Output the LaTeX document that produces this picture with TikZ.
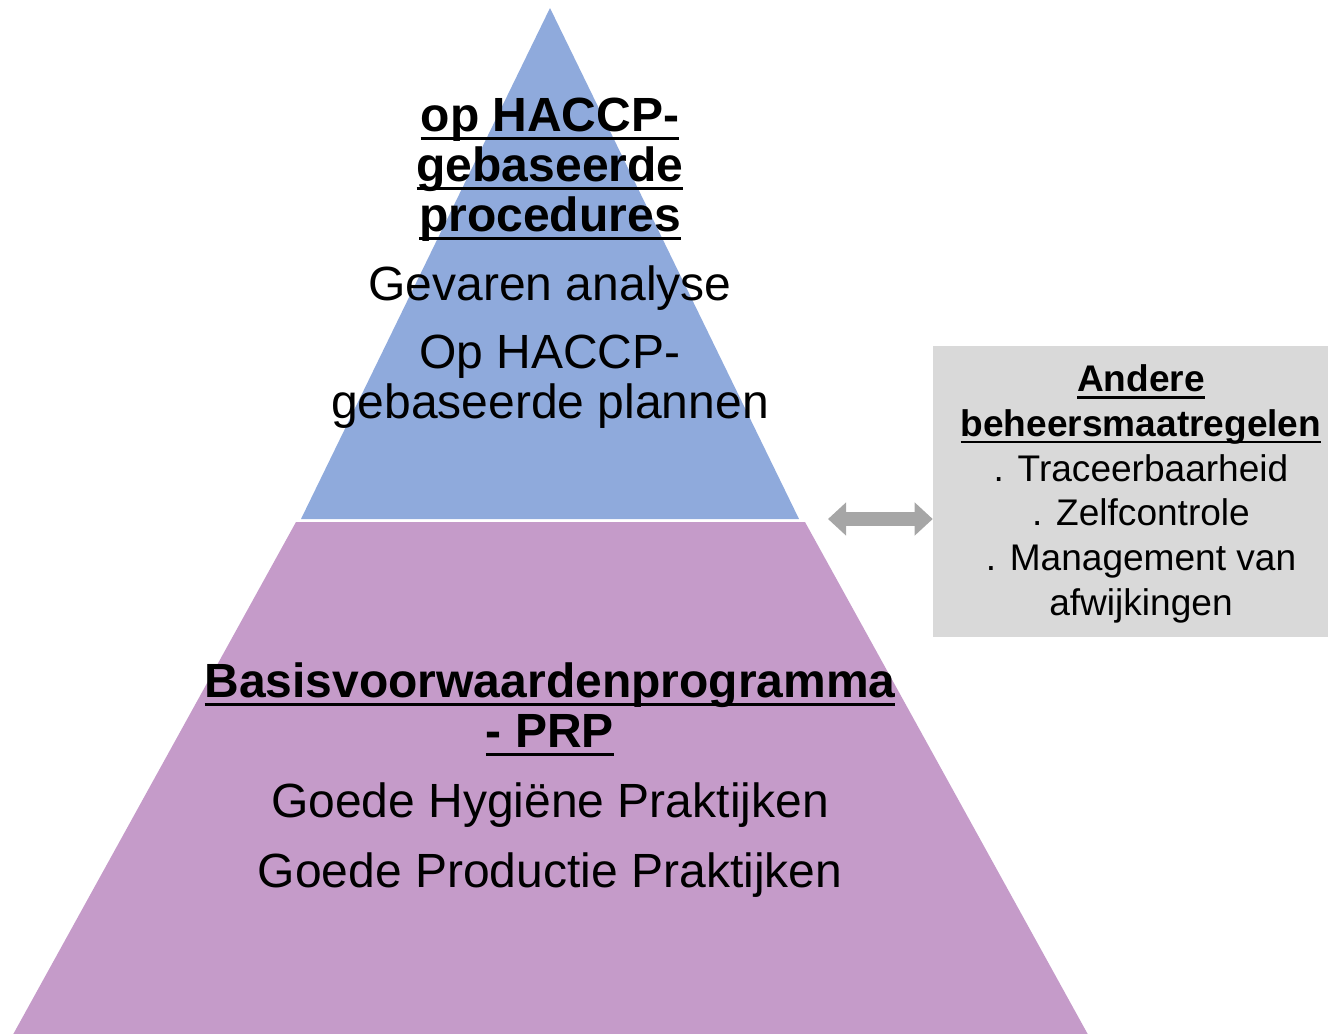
\documentclass[tikz,border=0pt]{standalone}
\usepackage{fontspec}
\setmainfont{Liberation Sans}
\usepackage{tikz}
\usetikzlibrary{arrows.meta}
\definecolor{haccpblue}{HTML}{8FAADC}
\definecolor{prppink}{HTML}{C59BC9}
\definecolor{boxgrey}{HTML}{D9D9D9}
\definecolor{arrowgrey}{HTML}{A6A6A6}
\newsavebox\ulbox
\newcommand\ulbold[1]{\sbox\ulbox{#1}\rlap{\rule[-0.19em]{\wd\ulbox}{0.065em}}\usebox\ulbox}

\begin{document}
\begin{tikzpicture}[x=0.75pt, y=-0.75pt,
  big/.style={inner sep=0pt, align=center, anchor=base, font=\fontsize{36}{37.5}\selectfont},
  bigbold/.style={big, font=\fontsize{36}{37.5}\selectfont\bfseries},
  small/.style={inner sep=0pt, align=center, anchor=base, font=\fontsize{27.8}{33.5}\selectfont},
  dblarrow/.style={line width=10.5pt, draw=arrowgrey, {Triangle[width=24pt,length=13.5pt]}-{Triangle[width=24pt,length=13.5pt]}}]
\clip (0,0) rectangle (1328,1033);
\fill[prppink] (296,522) -- (805,522) -- (1091,1040) -- (10,1040) -- cycle;
\fill[haccpblue] (550,8) -- (799,519) -- (301,519) -- cycle;
\node[bigbold] (haccp) at (550,231) {\ulbold{op HACCP-}\\\ulbold{gebaseerde}\\\ulbold{procedures}};
\node[big] (gevaren) at (550,300) {Gevaren analyse};
\node[big] (plannen) at (550,418) {Op HACCP-\\gebaseerde plannen};
\node[bigbold] (prp) at (550,747) {\ulbold{Basisvoorwaardenprogramma}\\\ulbold{- PRP}};
\node[big] (hygiene) at (550,817) {Goede Hygiëne Praktijken};
\node[big] (productie) at (550,887) {Goede Productie Praktijken};
\node[fill=boxgrey, inner sep=0pt, minimum width=312pt, minimum height=218.25pt] (box) at (1141,491.5) {};
\node[small] (boxtext) at (1141,615) {\textbf{\ulbold{Andere}}\\\textbf{\ulbold{beheersmaatregelen}}\\. Traceerbaarheid\\. Zelfcontrole\\. Management van\\afwijkingen};
\coordinate (arrL) at (828,519);
\draw[dblarrow] (arrL) -- (arrL -| box.west);
\end{tikzpicture}
\end{document}
